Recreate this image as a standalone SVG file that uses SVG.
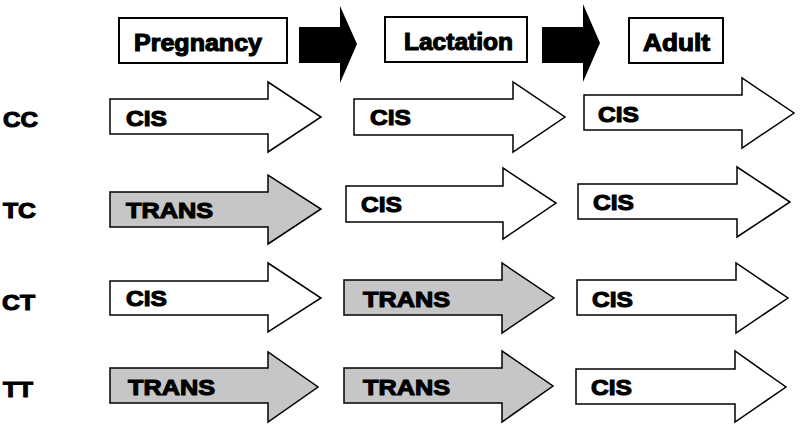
<svg xmlns="http://www.w3.org/2000/svg" width="800" height="427" viewBox="0 0 800 427">
<style>
.bg{fill:#fff}
.box{fill:#fff;stroke:#000;stroke-width:2}
.hd{font-family:"Liberation Sans",Arial,sans-serif;font-weight:bold;font-size:23px;fill:#000;stroke:#000;stroke-width:1.1}
.t{font-family:"Liberation Sans",Arial,sans-serif;font-weight:bold;font-size:22px;fill:#000;stroke:#000;stroke-width:1.1}
.w{fill:#fff;stroke:#000;stroke-width:1.5;stroke-linejoin:miter}
.g{fill:#c6c6c6;stroke:#000;stroke-width:1.5;stroke-linejoin:miter}
.blk{fill:#000}
</style>
<rect class="bg" x="0" y="0" width="800" height="427"/>

<g id="header-pregnancy">
<rect class="box" x="119" y="18" width="168" height="45"/>
<text class="hd" x="134" y="51" textLength="128" lengthAdjust="spacingAndGlyphs">Pregnancy</text>
</g>
<g id="header-lactation">
<rect class="box" x="385" y="17" width="142" height="45"/>
<text class="hd" x="404" y="50" textLength="109" lengthAdjust="spacingAndGlyphs">Lactation</text>
</g>
<g id="header-adult">
<rect class="box" x="629" y="18" width="94" height="45"/>
<text class="hd" x="643" y="51" textLength="67" lengthAdjust="spacingAndGlyphs">Adult</text>
</g>

<g id="connectors">
<polygon class="blk" points="299,27 340,27 340,6 357,44 340,83 340,63 299,63"/>
<polygon class="blk" points="542,27 583,27 583,4 600,43 583,82 583,63 542,63"/>
</g>

<g id="row-labels">
<text class="t" x="3" y="127" textLength="35" lengthAdjust="spacingAndGlyphs">CC</text>
<text class="t" x="3" y="218" textLength="33" lengthAdjust="spacingAndGlyphs">TC</text>
<text class="t" x="2" y="310" textLength="33" lengthAdjust="spacingAndGlyphs">CT</text>
<text class="t" x="3" y="397" textLength="30" lengthAdjust="spacingAndGlyphs">TT</text>
</g>

<!-- Row CC -->
<g id="cc-pregnancy">
<polygon class="w" points="110,99 268,99 268,82 321,117 268,152 268,134 110,134"/>
<text class="t" x="126" y="126" textLength="41" lengthAdjust="spacingAndGlyphs">CIS</text>
</g>
<g id="cc-lactation">
<polygon class="w" points="354,99 513,99 513,82 565,117 513,152 513,135 354,135"/>
<text class="t" x="370" y="125" textLength="41" lengthAdjust="spacingAndGlyphs">CIS</text>
</g>
<g id="cc-adult">
<polygon class="w" points="584,95 742,95 742,78 794,113 742,148 742,130 584,130"/>
<text class="t" x="598" y="122" textLength="41" lengthAdjust="spacingAndGlyphs">CIS</text>
</g>

<!-- Row TC -->
<g id="tc-pregnancy">
<polygon class="g" points="110,192 268,192 268,175 321,209 268,244 268,227 110,227"/>
<text class="t" x="126" y="218" textLength="87" lengthAdjust="spacingAndGlyphs">TRANS</text>
</g>
<g id="tc-lactation">
<polygon class="w" points="346,186 503,186 503,168 556,203 503,239 503,222 346,222"/>
<text class="t" x="361" y="212" textLength="41" lengthAdjust="spacingAndGlyphs">CIS</text>
</g>
<g id="tc-adult">
<polygon class="w" points="578,184 737,184 737,167 790,202 737,237 737,219 578,219"/>
<text class="t" x="593" y="210" textLength="41" lengthAdjust="spacingAndGlyphs">CIS</text>
</g>

<!-- Row CT -->
<g id="ct-pregnancy">
<polygon class="w" points="110,281 268,281 268,263 321,298 268,332 268,315 110,315"/>
<text class="t" x="126" y="306" textLength="41" lengthAdjust="spacingAndGlyphs">CIS</text>
</g>
<g id="ct-lactation">
<polygon class="g" points="344,280 502,280 502,263 554,298 502,333 502,315 344,315"/>
<text class="t" x="363" y="307" textLength="87" lengthAdjust="spacingAndGlyphs">TRANS</text>
</g>
<g id="ct-adult">
<polygon class="w" points="577,280 736,280 736,263 788,298 736,333 736,315 577,315"/>
<text class="t" x="592" y="307" textLength="41" lengthAdjust="spacingAndGlyphs">CIS</text>
</g>

<!-- Row TT -->
<g id="tt-pregnancy">
<polygon class="g" points="110,368 268,368 268,352 318,387 268,422 268,403 110,403"/>
<text class="t" x="128" y="395" textLength="87" lengthAdjust="spacingAndGlyphs">TRANS</text>
</g>
<g id="tt-lactation">
<polygon class="g" points="344,368 502,368 502,351 553,386 502,422 502,403 344,403"/>
<text class="t" x="363" y="395" textLength="87" lengthAdjust="spacingAndGlyphs">TRANS</text>
</g>
<g id="tt-adult">
<polygon class="w" points="576,369 735,369 735,351 786,387 735,422 735,404 576,404"/>
<text class="t" x="591" y="395" textLength="41" lengthAdjust="spacingAndGlyphs">CIS</text>
</g>
</svg>
